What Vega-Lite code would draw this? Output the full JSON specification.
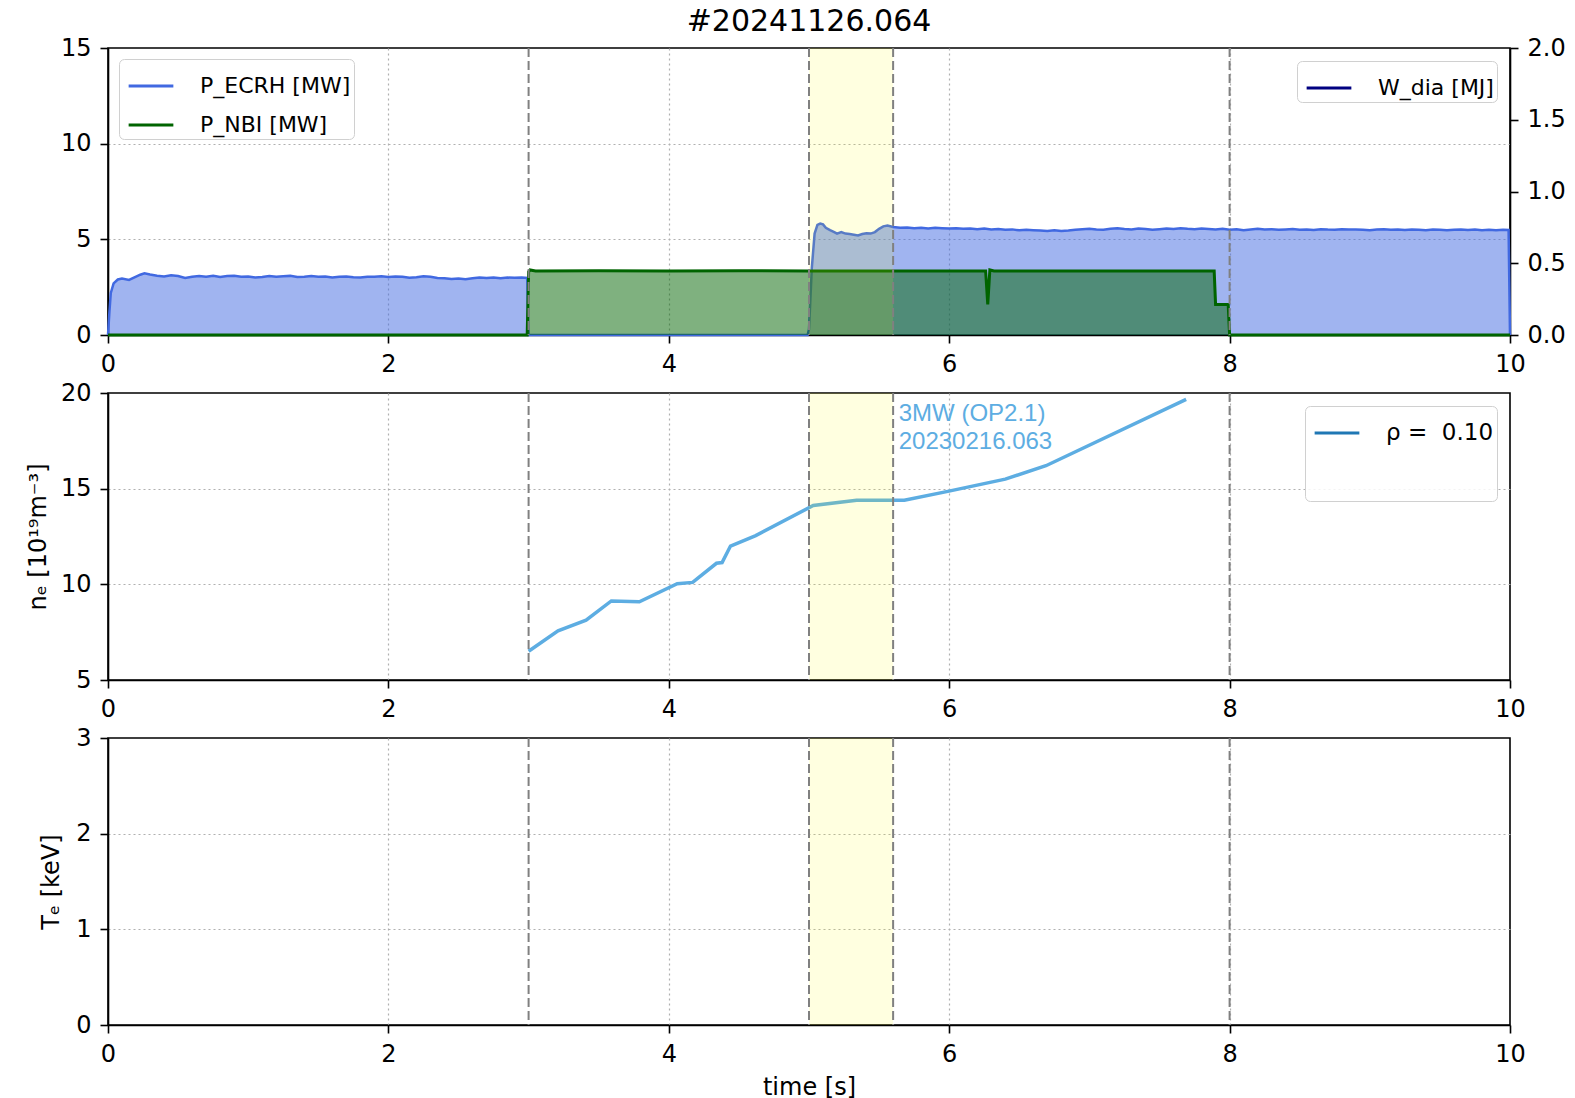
{
  "$schema": "https://vega.github.io/schema/vega-lite/v6.json",
  "background": "white",
  "padding": {"left": 25, "top": 7, "right": 0, "bottom": 0},
  "title": {"text": "#20241126.064", "anchor": "middle", "frame": "group", "fontSize": 30, "font": "DejaVu Sans", "fontWeight": "normal", "offset": -2, "color": "black"},
  "config": {
    "font": "DejaVu Sans",
    "view": {"stroke": "black", "strokeWidth": 1.6},
    "axis": {"labelFont": "DejaVu Sans", "labelFontSize": 24, "labelColor": "black", "tickColor": "black", "tickSize": 8, "tickWidth": 1.6, "domainColor": "black", "domainWidth": 1.6, "gridColor": "#b0b0b0", "gridDash": [2, 3], "gridWidth": 1.2, "titleFont": "DejaVu Sans", "titleFontSize": 24, "titleFontWeight": "normal", "titleColor": "black", "labelPadding": 9},
    "axisX": {"labelPadding": 9, "titlePadding": 9, "format": "d", "labelFlush": false, "gridOpacity": {"condition": {"test": "datum.value <= 0 || datum.value >= 10", "value": 0}, "value": 1}},
    "legend": {"labelFont": "DejaVu Sans", "labelFontSize": 22, "labelColor": "black", "symbolType": "stroke", "symbolStrokeWidth": 3, "symbolSize": 2000, "symbolOffset": 5, "strokeColor": "#d0d0d0", "fillColor": "rgba(255,255,255,0.85)", "cornerRadius": 5, "padding": 3, "rowPadding": 4, "labelOffset": 25, "offset": 11}
  },
  "resolve": {"scale": {"color": "independent", "fill": "independent"}, "legend": {"color": "independent"}},
  "datasets": {
    "ecrh": [
      {"t":0,"P":0},{"t":0.01,"P":1.2},{"t":0.02,"P":2.2},{"t":0.04,"P":2.7},{"t":0.07,"P":2.9},{"t":0.1,"P":2.95},{"t":0.15,"P":2.88},{"t":0.2,"P":3.05},{"t":0.23,"P":3.15},{"t":0.26,"P":3.22},{"t":0.3,"P":3.16},{"t":0.35,"P":3.1},{"t":0.4,"P":3.06},{"t":0.45,"P":3.12},{"t":0.5,"P":3.08},{"t":0.55,"P":2.98},{"t":0.6,"P":3.04},{"t":0.65,"P":3.08},{"t":0.7,"P":3.05},{"t":0.75,"P":3.1},{"t":0.8,"P":3.03},{"t":0.85,"P":3.08},{"t":0.9,"P":3.1},{"t":0.95,"P":3.04},{"t":1.0,"P":3.06},{"t":1.05,"P":3.0},{"t":1.1,"P":3.03},{"t":1.15,"P":3.08},{"t":1.2,"P":3.04},{"t":1.25,"P":3.07},{"t":1.3,"P":3.09},{"t":1.35,"P":3.03},{"t":1.4,"P":3.05},{"t":1.45,"P":3.08},{"t":1.5,"P":3.04},{"t":1.55,"P":3.06},{"t":1.6,"P":3.01},{"t":1.65,"P":3.04},{"t":1.7,"P":3.06},{"t":1.75,"P":3.02},{"t":1.8,"P":3.0},{"t":1.85,"P":3.05},{"t":1.9,"P":3.04},{"t":1.95,"P":3.07},{"t":2.0,"P":3.03},{"t":2.05,"P":3.06},{"t":2.1,"P":3.04},{"t":2.15,"P":2.99},{"t":2.2,"P":3.02},{"t":2.25,"P":3.07},{"t":2.3,"P":3.04},{"t":2.35,"P":2.98},{"t":2.4,"P":2.96},{"t":2.45,"P":2.93},{"t":2.5,"P":2.95},{"t":2.55,"P":2.92},{"t":2.6,"P":2.96},{"t":2.65,"P":3.0},{"t":2.7,"P":2.98},{"t":2.75,"P":3.01},{"t":2.8,"P":2.97},{"t":2.85,"P":3.0},{"t":2.9,"P":2.99},{"t":2.95,"P":3.01},{"t":2.99,"P":2.98},{"t":3.0,"P":0},{"t":4.99,"P":0},{"t":5.0,"P":0.3},{"t":5.02,"P":3.5},{"t":5.04,"P":5.3},{"t":5.06,"P":5.75},{"t":5.08,"P":5.82},{"t":5.1,"P":5.78},{"t":5.12,"P":5.6},{"t":5.15,"P":5.48},{"t":5.18,"P":5.38},{"t":5.2,"P":5.3},{"t":5.23,"P":5.38},{"t":5.26,"P":5.3},{"t":5.29,"P":5.28},{"t":5.32,"P":5.24},{"t":5.35,"P":5.2},{"t":5.38,"P":5.28},{"t":5.41,"P":5.32},{"t":5.44,"P":5.3},{"t":5.47,"P":5.38},{"t":5.5,"P":5.55},{"t":5.53,"P":5.68},{"t":5.56,"P":5.72},{"t":5.6,"P":5.65},{"t":5.65,"P":5.6},{"t":5.7,"P":5.62},{"t":5.75,"P":5.58},{"t":5.8,"P":5.6},{"t":5.85,"P":5.57},{"t":5.9,"P":5.6},{"t":5.95,"P":5.58},{"t":6.0,"P":5.56},{"t":6.05,"P":5.58},{"t":6.1,"P":5.55},{"t":6.15,"P":5.57},{"t":6.2,"P":5.53},{"t":6.25,"P":5.56},{"t":6.3,"P":5.52},{"t":6.35,"P":5.54},{"t":6.4,"P":5.5},{"t":6.45,"P":5.52},{"t":6.5,"P":5.47},{"t":6.55,"P":5.5},{"t":6.6,"P":5.48},{"t":6.65,"P":5.46},{"t":6.7,"P":5.44},{"t":6.75,"P":5.48},{"t":6.8,"P":5.43},{"t":6.85,"P":5.46},{"t":6.9,"P":5.5},{"t":6.95,"P":5.53},{"t":7.0,"P":5.55},{"t":7.05,"P":5.52},{"t":7.1,"P":5.5},{"t":7.15,"P":5.55},{"t":7.2,"P":5.58},{"t":7.25,"P":5.54},{"t":7.3,"P":5.52},{"t":7.35,"P":5.56},{"t":7.4,"P":5.54},{"t":7.45,"P":5.5},{"t":7.5,"P":5.53},{"t":7.55,"P":5.56},{"t":7.6,"P":5.54},{"t":7.65,"P":5.58},{"t":7.7,"P":5.55},{"t":7.75,"P":5.53},{"t":7.8,"P":5.56},{"t":7.85,"P":5.54},{"t":7.9,"P":5.52},{"t":7.95,"P":5.55},{"t":8.0,"P":5.5},{"t":8.05,"P":5.53},{"t":8.1,"P":5.48},{"t":8.15,"P":5.52},{"t":8.2,"P":5.55},{"t":8.25,"P":5.51},{"t":8.3,"P":5.53},{"t":8.35,"P":5.5},{"t":8.4,"P":5.52},{"t":8.45,"P":5.54},{"t":8.5,"P":5.5},{"t":8.55,"P":5.52},{"t":8.6,"P":5.49},{"t":8.65,"P":5.53},{"t":8.7,"P":5.51},{"t":8.75,"P":5.5},{"t":8.8,"P":5.53},{"t":8.85,"P":5.51},{"t":8.9,"P":5.52},{"t":8.95,"P":5.5},{"t":9.0,"P":5.48},{"t":9.05,"P":5.51},{"t":9.1,"P":5.53},{"t":9.15,"P":5.5},{"t":9.2,"P":5.52},{"t":9.25,"P":5.49},{"t":9.3,"P":5.51},{"t":9.35,"P":5.5},{"t":9.4,"P":5.48},{"t":9.45,"P":5.51},{"t":9.5,"P":5.5},{"t":9.55,"P":5.47},{"t":9.6,"P":5.5},{"t":9.65,"P":5.52},{"t":9.7,"P":5.49},{"t":9.75,"P":5.51},{"t":9.8,"P":5.48},{"t":9.85,"P":5.5},{"t":9.9,"P":5.47},{"t":9.95,"P":5.5},{"t":9.99,"P":5.49},{"t":10.0,"P":0}
    ],
    "nbi": [
      {"t":0,"P":0},{"t":2.99,"P":0},{"t":3.0,"P":3.3},{"t":3.01,"P":3.4},{"t":3.05,"P":3.35},{"t":3.5,"P":3.36},{"t":4.0,"P":3.35},{"t":4.5,"P":3.36},{"t":5.0,"P":3.35},{"t":5.5,"P":3.35},{"t":6.0,"P":3.34},{"t":6.26,"P":3.34},{"t":6.275,"P":1.6},{"t":6.29,"P":3.4},{"t":6.32,"P":3.35},{"t":7.0,"P":3.35},{"t":7.5,"P":3.35},{"t":7.89,"P":3.35},{"t":7.9,"P":1.6},{"t":7.99,"P":1.6},{"t":8.0,"P":0},{"t":10.0,"P":0}
    ],
    "ne": [
      {"t":3.0,"ne":6.5},{"t":3.21,"ne":7.57},{"t":3.41,"ne":8.13},{"t":3.59,"ne":9.13},{"t":3.79,"ne":9.09},{"t":4.06,"ne":10.03},{"t":4.17,"ne":10.1},{"t":4.34,"ne":11.1},{"t":4.38,"ne":11.14},{"t":4.44,"ne":12.0},{"t":4.62,"ne":12.55},{"t":5.03,"ne":14.12},{"t":5.34,"ne":14.39},{"t":5.68,"ne":14.39},{"t":5.99,"ne":14.86},{"t":6.4,"ne":15.5},{"t":6.69,"ne":16.2},{"t":7.69,"ne":19.67}
    ],
    "annot": [{"label": "3MW (OP2.1)\n20230216.063"}],
    "wdia": [],
    "rho": [],
    "te": [],
    "band": [{"start": 5.0, "end": 5.6}],
    "vlines": [{"t": 3.0}, {"t": 5.0}, {"t": 5.6}, {"t": 8.0}]
  },
  "bounds": "flush",
  "spacing": 58,
  "vconcat": [
    {
      "width": 1402,
      "height": 287,
      "layer": [
        {
          "layer": [
            {
              "data": {"name": "ecrh"},
              "mark": {"type": "area", "opacity": 0.5},
              "encoding": {
                "x": {"field": "t", "type": "quantitative", "scale": {"domain": [0, 10], "nice": false}, "axis": {"values": [0, 2, 4, 6, 8, 10], "format": "d", "title": null, "grid": true}},
                "y": {"field": "P", "type": "quantitative", "stack": null, "scale": {"domain": [0, 15], "nice": false}, "axis": {"values": [0, 5, 10, 15], "format": "d", "title": null, "grid": true, "gridOpacity": {"condition": {"test": "datum.value <= 0 || datum.value >= 15", "value": 0}, "value": 1}}},
                "fill": {"datum": "ECRH", "scale": {"domain": ["ECRH", "NBI"], "range": ["#4169e1", "#006400"]}, "legend": null}
              }
            },
            {
              "data": {"name": "ecrh"},
              "mark": {"type": "line", "strokeWidth": 2.5},
              "encoding": {
                "x": {"field": "t", "type": "quantitative"},
                "y": {"field": "P", "type": "quantitative"},
                "color": {"datum": "P_ECRH [MW]", "scale": {"domain": ["P_ECRH [MW]", "P_NBI [MW]"], "range": ["#4169e1", "#006400"]}, "legend": {"orient": "top-left", "title": null, "offset": 11}}
              }
            },
            {
              "data": {"name": "nbi"},
              "mark": {"type": "area", "opacity": 0.5},
              "encoding": {
                "x": {"field": "t", "type": "quantitative"},
                "y": {"field": "P", "type": "quantitative", "stack": null},
                "fill": {"datum": "NBI"}
              }
            },
            {
              "data": {"name": "nbi"},
              "mark": {"type": "line", "strokeWidth": 3},
              "encoding": {
                "x": {"field": "t", "type": "quantitative"},
                "y": {"field": "P", "type": "quantitative"},
                "color": {"datum": "P_NBI [MW]"}
              }
            },
            {
              "data": {"name": "band"},
              "mark": {"type": "rect", "color": "yellow", "opacity": 0.12},
              "encoding": {"x": {"field": "start", "type": "quantitative"}, "x2": {"field": "end"}}
            },
            {
              "data": {"name": "vlines"},
              "mark": {"type": "rule", "color": "#808080", "strokeWidth": 2, "strokeDash": [9, 4]},
              "encoding": {"x": {"field": "t", "type": "quantitative"}}
            }
          ]
        },
        {
          "data": {"name": "wdia"},
          "mark": {"type": "line", "strokeWidth": 3},
          "encoding": {
            "x": {"field": "t", "type": "quantitative"},
            "y": {"field": "W", "type": "quantitative", "scale": {"domain": [0, 2], "nice": false}, "axis": {"orient": "right", "values": [0, 0.5, 1, 1.5, 2], "format": ".1f", "grid": false, "title": null}},
            "color": {"datum": "W_dia [MJ]", "scale": {"domain": ["W_dia [MJ]"], "range": ["#000080"]}, "legend": {"orient": "top-right", "title": null, "offset": 13}}
          }
        }
      ],
      "resolve": {"scale": {"y": "independent", "color": "independent"}, "legend": {"color": "independent"}}
    },
    {
      "width": 1402,
      "height": 287,
      "layer": [
        {
          "data": {"name": "ne"},
          "mark": {"type": "line", "color": "#5dade2", "strokeWidth": 3.5},
          "encoding": {
            "x": {"field": "t", "type": "quantitative", "scale": {"domain": [0, 10], "nice": false}, "axis": {"values": [0, 2, 4, 6, 8, 10], "format": "d", "title": null, "grid": true}},
            "y": {"field": "ne", "type": "quantitative", "scale": {"domain": [5, 20], "nice": false}, "axis": {"values": [5, 10, 15, 20], "format": "d", "title": "nₑ [10¹⁹m⁻³]", "titlePadding": 10, "grid": true, "gridOpacity": {"condition": {"test": "datum.value <= 5 || datum.value >= 20", "value": 0}, "value": 1}}}
          }
        },
        {
          "data": {"name": "rho"},
          "mark": {"type": "line", "strokeWidth": 3},
          "encoding": {
            "x": {"field": "t", "type": "quantitative"},
            "y": {"field": "ne", "type": "quantitative"},
            "color": {"field": "label", "type": "nominal", "scale": {"domain": ["ρ = \u00a00.10", " "], "range": ["#1f77b4", "rgba(0,0,0,0)"]}, "legend": {"orient": "top-right", "title": null, "offset": 13, "rowPadding": 17, "labelFontSize": 23}}
          }
        },
        {
          "data": {"name": "annot"},
          "mark": {"type": "text", "font": "Liberation Sans", "fontSize": 24, "color": "#5dade2", "align": "left", "baseline": "alphabetic", "lineHeight": 28, "lineBreak": "\n"},
          "encoding": {"x": {"datum": 5.64, "type": "quantitative"}, "y": {"datum": 18.53, "type": "quantitative"}, "text": {"field": "label"}}
        },
        {
          "data": {"name": "band"},
          "mark": {"type": "rect", "color": "yellow", "opacity": 0.12},
          "encoding": {"x": {"field": "start", "type": "quantitative"}, "x2": {"field": "end"}}
        },
        {
          "data": {"name": "vlines"},
          "mark": {"type": "rule", "color": "#808080", "strokeWidth": 2, "strokeDash": [9, 4]},
          "encoding": {"x": {"field": "t", "type": "quantitative"}}
        }
      ]
    },
    {
      "width": 1402,
      "height": 287,
      "layer": [
        {
          "data": {"name": "te"},
          "mark": {"type": "line", "strokeWidth": 3},
          "encoding": {
            "x": {"field": "t", "type": "quantitative", "scale": {"domain": [0, 10], "nice": false}, "axis": {"values": [0, 2, 4, 6, 8, 10], "format": "d", "title": "time [s]", "grid": true}},
            "y": {"field": "Te", "type": "quantitative", "scale": {"domain": [0, 3], "nice": false}, "axis": {"values": [0, 1, 2, 3], "format": "d", "title": "Tₑ [keV]", "titlePadding": 12, "grid": true, "gridOpacity": {"condition": {"test": "datum.value <= 0 || datum.value >= 3", "value": 0}, "value": 1}}}
          }
        },
        {
          "data": {"name": "band"},
          "mark": {"type": "rect", "color": "yellow", "opacity": 0.12},
          "encoding": {"x": {"field": "start", "type": "quantitative"}, "x2": {"field": "end"}}
        },
        {
          "data": {"name": "vlines"},
          "mark": {"type": "rule", "color": "#808080", "strokeWidth": 2, "strokeDash": [9, 4]},
          "encoding": {"x": {"field": "t", "type": "quantitative"}}
        }
      ]
    }
  ]
}
